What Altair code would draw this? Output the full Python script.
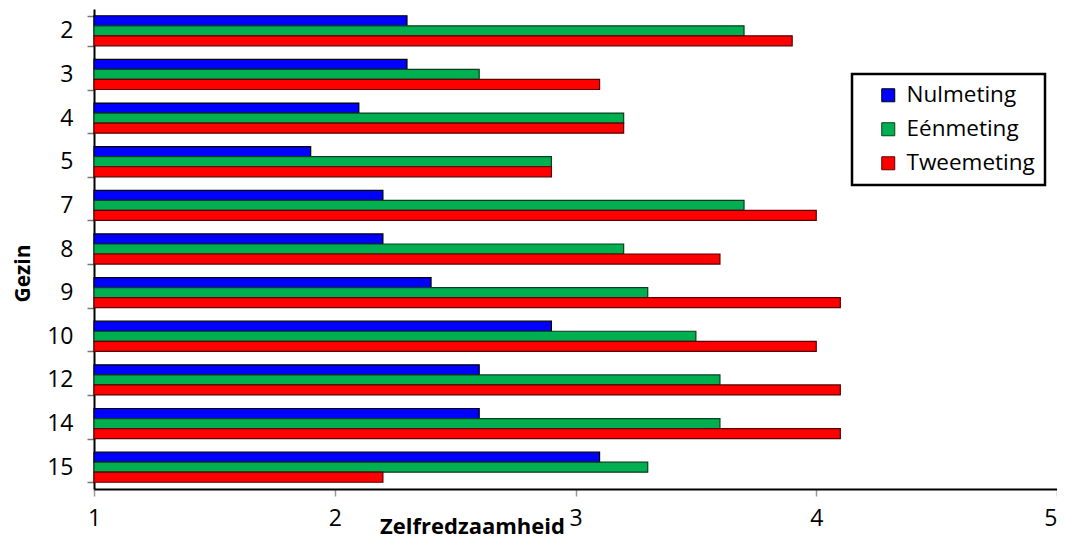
import altair as alt
import pandas as pd

gezin = ["2", "3", "4", "5", "7", "8", "9", "10", "12", "14", "15"]
nulmeting = [2.3, 2.3, 2.1, 1.9, 2.2, 2.2, 2.4, 2.9, 2.6, 2.6, 3.1]
eenmeting = [3.7, 2.6, 3.2, 2.9, 3.7, 3.2, 3.3, 3.5, 3.6, 3.6, 3.3]
tweemeting = [3.9, 3.1, 3.2, 2.9, 4.0, 3.6, 4.1, 4.0, 4.1, 4.1, 2.2]
series = ["Nulmeting", "Eénmeting", "Tweemeting"]
colors = ["#0000FF", "#00B050", "#FF0000"]
strokes = ["#000000", "#0B3D1E", "#5A0000"]

rows = []
for i, g in enumerate(gezin):
    for s, vals in zip(series, [nulmeting, eenmeting, tweemeting]):
        rows.append({"Gezin": g, "Meting": s, "Waarde": vals[i]})
df = pd.DataFrame(rows)

FONT = "Open Sans"

chart = alt.Chart(df).mark_bar(strokeWidth=1.2).encode(
    x=alt.X("Waarde:Q",
            scale=alt.Scale(domain=[1, 5], nice=False, zero=False),
            axis=alt.Axis(title="Zelfredzaamheid", values=[1, 2, 3, 4, 5], grid=False,
                          labelFlush=False,
                          labelAlign=alt.expr("datum.value == 5 ? 'right' : 'center'"),
                          labelFontSize=23, labelPadding=11, labelFont=FONT, labelColor="#000",
                          titleFontSize=22, titleFont=FONT, titleFontWeight="bold",
                          titleX=378, titleY=44, titleBaseline="alphabetic",
                          titleAlign="center", titleColor="#000",
                          domainColor="#000", domainWidth=2, tickColor="#999",
                          tickSize=7, tickWidth=1.5)),
    x2=alt.datum(1),
    y=alt.Y("Gezin:N", sort=gezin,
            scale=alt.Scale(paddingInner=0.31, paddingOuter=0.155),
            axis=alt.Axis(title="Gezin", labelFontSize=23, labelFont=FONT, labelColor="#000",
                          labelPadding=14, tickBand="extent",
                          titleFontSize=21, titleFont=FONT, titleFontWeight="bold",
                          titleColor="#000", titleX=-71, titleY=264, titleAngle=270,
                          titleBaseline="middle", titleAlign="center",
                          domainColor="#000", domainWidth=2, tickColor="#777",
                          tickSize=7, tickWidth=1.5)),
    yOffset=alt.YOffset("Meting:N", sort=series, scale=alt.Scale(paddingInner=0, paddingOuter=0)),
    color=alt.Color("Meting:N", sort=series,
                    scale=alt.Scale(domain=series, range=colors),
                    legend=alt.Legend(title=None, orient="none", legendX=758, legendY=65,
                                      labelFontSize=22.5, labelFont=FONT, labelColor="#000",
                                      symbolType="square", symbolSize=169,
                                      symbolStrokeColor="#000", symbolStrokeWidth=1,
                                      symbolOffset=15,
                                      rowPadding=11, padding=10,
                                      strokeColor="#000", fillColor="#fff",
                                      labelOffset=7)),
    stroke=alt.Stroke("Meting:N", sort=series,
                      scale=alt.Scale(domain=series, range=strokes), legend=None),
).properties(
    width=963, height=480,
    padding={"left": 86, "top": 1, "right": 0, "bottom": 49},
    autosize=alt.AutoSizeParams(type="none"),
).configure_view(stroke=None).configure_legend(strokeWidth=2.5)

chart.save("out.html", embed_options={"renderer": "svg", "actions": False})
